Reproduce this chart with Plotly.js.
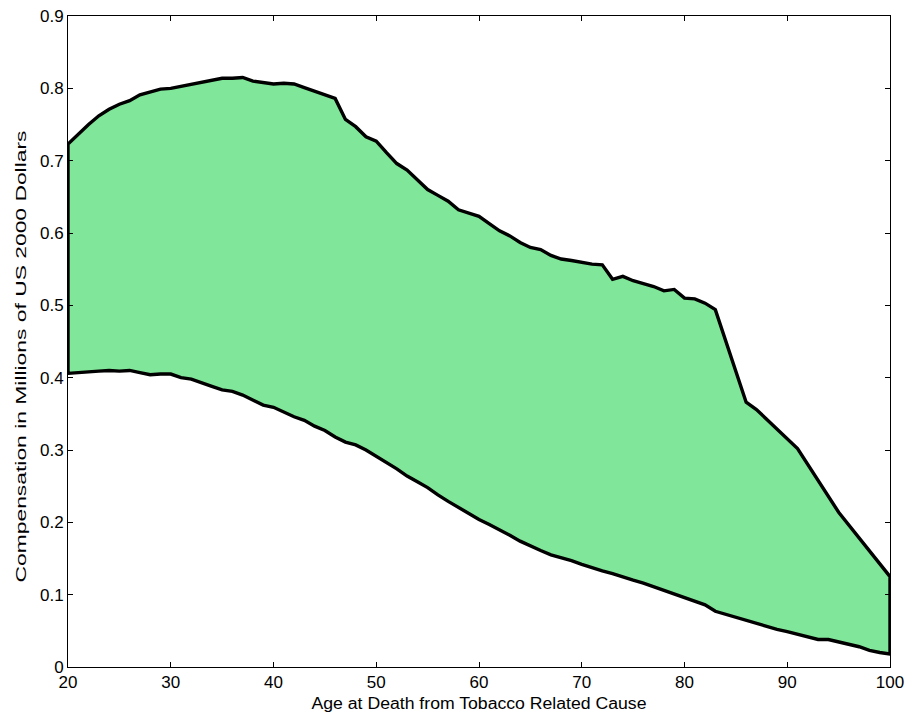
<!DOCTYPE html>
<html>
<head>
<meta charset="utf-8">
<script src="https://cdn.plot.ly/plotly-3.0.1.min.js"></script>
<style>html,body{margin:0;padding:0;background:#fff;}#chart{width:914px;height:719px;}</style>
</head>
<body>
<div id="chart"></div>
<script>
var upperAges = [20,21,22,23,24,25,26,27,28,29,30,31,32,33,34,35,36,37,38,39,40,41,42,43,44,45,46,47,48,49,50,51,52,53,54,55,56,57,58,59,60,61,62,63,64,65,66,67,68,69,70,71,72,73,74,75,76,77,78,79,80,81,82,83,86,87,91,95,100];
var upperValues = [0.723,0.737,0.750,0.762,0.771,0.778,0.783,0.791,0.795,0.799,0.800,0.803,0.805,0.808,0.812,0.814,0.814,0.815,0.810,0.808,0.806,0.807,0.806,0.801,0.796,0.792,0.786,0.757,0.747,0.733,0.727,0.711,0.696,0.687,0.673,0.660,0.652,0.644,0.632,0.628,0.623,0.613,0.603,0.596,0.587,0.580,0.577,0.569,0.564,0.562,0.559,0.557,0.556,0.536,0.540,0.534,0.530,0.526,0.520,0.522,0.510,0.509,0.503,0.494,0.366,0.356,0.302,0.214,0.125];
var lowerAges = [20,21,22,23,24,25,26,27,28,29,30,31,32,33,34,35,36,37,38,39,40,41,42,43,44,45,46,47,48,49,50,51,52,53,54,55,56,57,58,59,60,61,62,63,64,65,66,67,68,69,70,71,72,73,74,75,76,77,78,79,80,81,82,83,84,85,86,87,88,89,90,91,92,93,94,95,96,97,98,99,100];
var lowerValues = [0.406,0.406,0.408,0.409,0.410,0.409,0.410,0.407,0.404,0.405,0.405,0.400,0.398,0.393,0.388,0.383,0.381,0.376,0.369,0.362,0.359,0.353,0.346,0.341,0.333,0.327,0.318,0.311,0.307,0.300,0.292,0.283,0.274,0.264,0.256,0.248,0.238,0.229,0.221,0.212,0.204,0.197,0.190,0.182,0.174,0.167,0.161,0.155,0.151,0.147,0.142,0.137,0.133,0.129,0.125,0.120,0.116,0.111,0.106,0.102,0.097,0.091,0.086,0.077,0.072,0.069,0.065,0.060,0.056,0.052,0.049,0.045,0.042,0.038,0.038,0.035,0.031,0.028,0.023,0.020,0.018];
var xTitle = "Age at Death from Tobacco Related Cause";
var yTitle = "Compensation in Millions of US 2000 Dollars";

var polyX = upperAges.concat(lowerAges.slice().reverse());
var polyY = upperValues.concat(lowerValues.slice().reverse());
polyX.push(upperAges[0]); polyY.push(upperValues[0]);

var trace = {
  x: polyX, y: polyY, type: 'scatter', mode: 'lines',
  fill: 'toself', fillcolor: 'rgb(128,230,153)',
  line: {color: '#000', width: 3.4},
  hoverinfo: 'skip', showlegend: false
};
var fontFam = 'Liberation Sans, Arial, Helvetica, sans-serif';
var layout = {
  width: 914, height: 719,
  margin: {l: 68, r: 24, t: 16, b: 52},
  paper_bgcolor: '#fff', plot_bgcolor: '#fff',
  font: {family: fontFam, color: '#000', size: 17},
  showlegend: false,
  xaxis: {
    range: [20, 100], dtick: 10, tick0: 20,
    showgrid: false, zeroline: false,
    showline: true, linecolor: '#000', linewidth: 1, mirror: 'ticks',
    ticks: 'inside', ticklen: 5, tickcolor: '#000', tickwidth: 1,
    tickfont: {size: 17, family: fontFam, color: '#000'},
    title: {text: xTitle, font: {size: 16, family: fontFam, color: '#000'}, standoff: 2}
  },
  yaxis: {
    range: [0, 0.9], dtick: 0.1, tick0: 0,
    showgrid: false, zeroline: false,
    showline: true, linecolor: '#000', linewidth: 1, mirror: 'ticks',
    ticks: 'inside', ticklen: 5, tickcolor: '#000', tickwidth: 1,
    tickfont: {size: 17, family: fontFam, color: '#000'},
    title: {text: yTitle, font: {size: 15, family: fontFam, color: '#000'}, standoff: 4}
  }
};
Plotly.newPlot('chart', [trace], layout, {displayModeBar: false, staticPlot: true}).then(function () {
  var yt = document.querySelector('.ytitle');
  if (yt) {
    var x = parseFloat(yt.getAttribute('x')) - 5;
    var y = parseFloat(yt.getAttribute('y')) + 15;
    yt.setAttribute('x', x); yt.setAttribute('y', y);
    yt.setAttribute('transform', 'rotate(-90,' + x + ',' + y + ')');
    yt.setAttribute('textLength', '452'); yt.setAttribute('lengthAdjust', 'spacingAndGlyphs');
  }
  var xt = document.querySelector('.xtitle');
  if (xt) {
    xt.setAttribute('y', parseFloat(xt.getAttribute('y')) + 3);
    xt.setAttribute('textLength', '335'); xt.setAttribute('lengthAdjust', 'spacingAndGlyphs');
  }
});
</script>
</body>
</html>
